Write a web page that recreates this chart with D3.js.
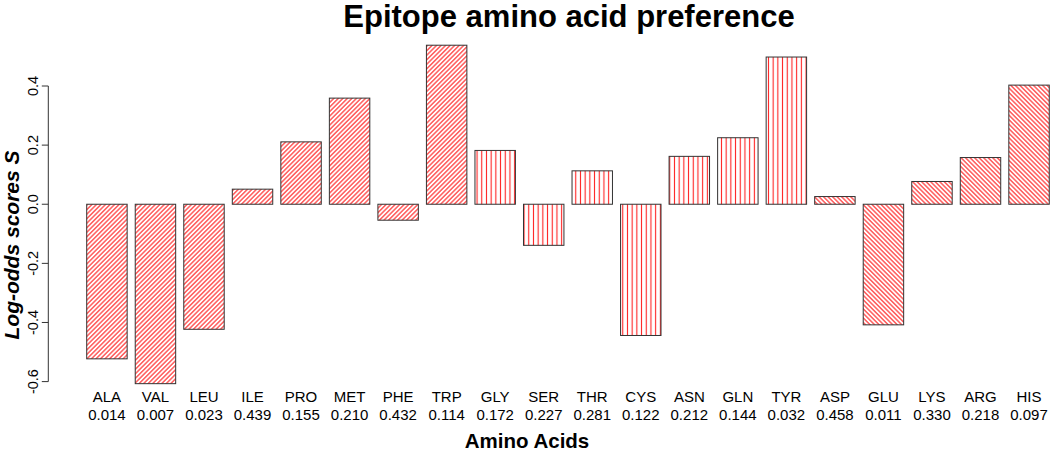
<!DOCTYPE html>
<html>
<head>
<meta charset="utf-8">
<script src="https://cdn.jsdelivr.net/npm/d3@7"></script>
<style>
  html, body { margin: 0; padding: 0; background: #fff; }
  svg { display: block; font-family: "Liberation Sans", Arial, sans-serif; }
</style>
</head>
<body>
<svg id="chart" width="1050" height="452"></svg>
<script>
// ---- data ----
const aminoAcids = ["ALA","VAL","LEU","ILE","PRO","MET","PHE","TRP","GLY","SER","THR","CYS","ASN","GLN","TYR","ASP","GLU","LYS","ARG","HIS"];
const frequencies = ["0.014","0.007","0.023","0.439","0.155","0.210","0.432","0.114","0.172","0.227","0.281","0.122","0.212","0.144","0.032","0.458","0.011","0.330","0.218","0.097"];
const scores = [-0.523,-0.607,-0.423,0.051,0.211,0.359,-0.054,0.538,0.182,-0.139,0.113,-0.444,0.162,0.225,0.498,0.026,-0.408,0.077,0.158,0.403];
const hatchGroup = ["up","up","up","up","up","up","up","up","vert","vert","vert","vert","vert","vert","vert","down","down","down","down","down"];
const yTicks = [-0.6,-0.4,-0.2,0.0,0.2,0.4];
const titleText = "Epitope amino acid preference";
const xTitle = "Amino Acids";
const yTitle = "Log-odds scores S";

// ---- layout ----
const svg = d3.select("#chart");
const x = d3.scaleBand().domain(aminoAcids).range([82.66, 1053.3]).paddingInner(0.1667).paddingOuter(0.0833);
const y = d3.scaleLinear().domain([-0.6, 0.4]).range([381.6, 86.0]);

// ---- patterns ----
const defs = svg.append("defs");
function hatch(id, spacing, angle) {
  const p = defs.append("pattern")
    .attr("id", id)
    .attr("patternUnits", "userSpaceOnUse")
    .attr("width", spacing).attr("height", 20)
    .attr("patternTransform", `rotate(${angle})`);
  p.append("line")
    .attr("x1", spacing / 2).attr("x2", spacing / 2)
    .attr("y1", 0).attr("y2", 20)
    .attr("stroke", "#ff1f1f").attr("stroke-width", 1.1);
}
hatch("hatch-up", 3.2, 45);
hatch("hatch-down", 3.2, -45);
hatch("hatch-vert", 4.7, 0);

// ---- bars ----
svg.append("g").selectAll("rect")
  .data(scores)
  .join("rect")
  .attr("x", (d, i) => x(aminoAcids[i]))
  .attr("width", x.bandwidth())
  .attr("y", d => y(Math.max(0, d)))
  .attr("height", d => Math.abs(y(d) - y(0)))
  .attr("fill", (d, i) => `url(#hatch-${hatchGroup[i]})`)
  .attr("stroke", "#333")
  .attr("stroke-width", 1);

// ---- y axis ----
const yAxis = svg.append("g").attr("transform", "translate(48.3,0)");
yAxis.append("line")
  .attr("x1", 0).attr("x2", 0)
  .attr("y1", y(d3.min(yTicks))).attr("y2", y(d3.max(yTicks)))
  .attr("stroke", "#333");
yAxis.selectAll("line.tick").data(yTicks).join("line")
  .attr("class", "tick")
  .attr("x1", -6.5).attr("x2", 0)
  .attr("y1", d => y(d)).attr("y2", d => y(d))
  .attr("stroke", "#333");
yAxis.selectAll("text").data(yTicks).join("text")
  .attr("transform", d => `translate(-10.5,${y(d)}) rotate(-90)`)
  .attr("text-anchor", "middle")
  .attr("font-size", 14.5)
  .attr("fill", "#000")
  .text(d => d.toFixed(1));

// ---- x labels ----
const xl = svg.append("g");
xl.selectAll("text.name").data(aminoAcids).join("text")
  .attr("class", "name")
  .attr("x", d => x(d) + x.bandwidth() / 2)
  .attr("y", 401.7)
  .attr("text-anchor", "middle")
  .attr("font-size", 15)
  .text(d => d);
xl.selectAll("text.freq").data(frequencies).join("text")
  .attr("class", "freq")
  .attr("x", (d, i) => x(aminoAcids[i]) + x.bandwidth() / 2)
  .attr("y", 420)
  .attr("text-anchor", "middle")
  .attr("font-size", 15)
  .text(d => d);

// ---- titles ----
svg.append("text")
  .attr("x", 569).attr("y", 27)
  .attr("text-anchor", "middle")
  .attr("font-size", 31).attr("font-weight", "bold")
  .text(titleText);
svg.append("text")
  .attr("x", 527).attr("y", 447.5)
  .attr("text-anchor", "middle")
  .attr("font-size", 20.5).attr("font-weight", "bold")
  .text(xTitle);
svg.append("text")
  .attr("transform", "translate(19,245) rotate(-90)")
  .attr("text-anchor", "middle")
  .attr("font-size", 21).attr("font-weight", "bold").attr("font-style", "italic")
  .text(yTitle);
</script>
</body>
</html>
